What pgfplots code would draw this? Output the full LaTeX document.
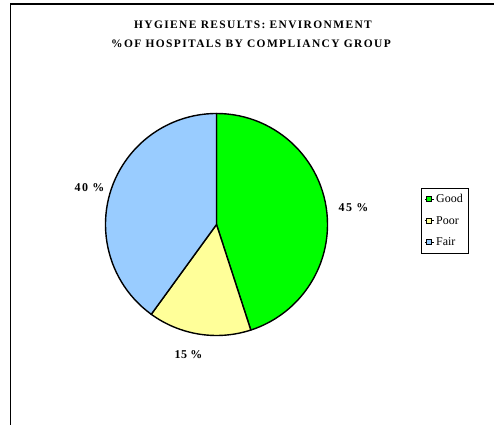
\documentclass[border=0pt]{standalone}
\usepackage{pgfplots}
\pgfplotsset{compat=1.18}
\usepackage{fontspec}
\setmainfont{Liberation Serif}
\newfontfamily\spaced[LetterSpace=12]{Liberation Serif}
\newfontfamily\lspaced[LetterSpace=4]{Liberation Serif}
\definecolor{good}{HTML}{00FF00}
\definecolor{poor}{HTML}{FFFF99}
\definecolor{fair}{HTML}{99CCFF}
\begin{document}
\begin{tikzpicture}
\useasboundingbox (0,0) rectangle (494bp,425bp);
\draw[line width=1.3bp] (10.5bp,0) -- (10.5bp,421bp) -- (494bp,421bp);
\node[anchor=base, font=\spaced\bfseries\fontsize{11.5}{12}\selectfont] at (253bp,396bp) {HYGIENE RESULTS: ENVIRONMENT};
\node[anchor=base, font=\spaced\bfseries\fontsize{11.5}{12}\selectfont] at (251bp,377.3bp) {\%OF HOSPITALS BY COMPLIANCY GROUP};
\begin{axis}[
  at={(216.5bp,200.5bp)}, anchor=center,
  x=1cm, y=1cm, xmin=-4, xmax=4, ymin=-4, ymax=4,
  hide axis, clip=false,
  legend image code/.code={\path (0bp,0bp) -- (9bp,0bp);\draw[#1,draw=black,line width=1bp] (1.5bp,-2.7bp) rectangle (7bp,2.7bp);},
  legend style={at={(1.3996,0.6631)}, anchor=north west, draw=black, line width=0.8bp,
    font=\fontsize{12}{13}\selectfont, inner xsep=3.5bp, inner ysep=4.5bp,
    row sep=8bp, cells={anchor=west}},
]
% shares (percent): Good 45, Poor 15, Fair 40
\draw[fill=good, line width=1.4bp] (axis cs:0,0) -- ++(90:3.9158cm)
  arc[start angle=90, end angle={90-3.6*45}, radius=3.9158cm] -- cycle;
\draw[fill=poor, line width=1.4bp] (axis cs:0,0) -- ++({90-3.6*45}:3.9158cm)
  arc[start angle={90-3.6*45}, end angle={90-3.6*(45+15)}, radius=3.9158cm] -- cycle;
\draw[fill=fair, line width=1.4bp] (axis cs:0,0) -- ++({90-3.6*60}:3.9158cm)
  arc[start angle={90-3.6*60}, end angle={90-3.6*100}, radius=3.9158cm] -- cycle;
\node[font=\spaced\bfseries\fontsize{12}{13}\selectfont] at (axis cs:4.833,0.600) {45 \%};
\node[font=\spaced\bfseries\fontsize{12}{13}\selectfont] at (axis cs:-4.480,1.305) {40 \%};
\node[font=\lspaced\bfseries\fontsize{12}{13}\selectfont] at (axis cs:-0.988,-4.586) {15 \%};
\addlegendimage{fill=good}\addlegendentry{Good}
\addlegendimage{fill=poor}\addlegendentry{Poor}
\addlegendimage{fill=fair}\addlegendentry{Fair}
\end{axis}
\end{tikzpicture}
\end{document}
